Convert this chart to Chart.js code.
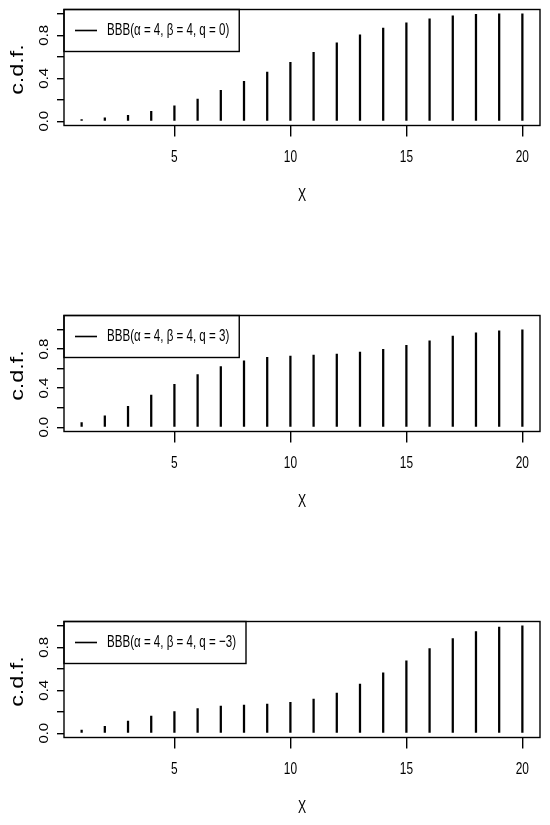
<!DOCTYPE html>
<html>
<head>
<meta charset="utf-8">
<script src="https://cdn.jsdelivr.net/npm/chart.js@4.4.1/dist/chart.umd.min.js"></script>
<style>
  html, body { margin: 0; padding: 0; background: #fff; }
  #pagina { position: relative; width: 550px; height: 825px; }
  canvas { position: absolute; left: 0; }
</style>
</head>
<body>
<div id="pagina">
  <canvas id="graficoQ0" width="550" height="214" style="top:0px"></canvas>
  <canvas id="graficoQ3" width="550" height="214" style="top:306px"></canvas>
  <canvas id="graficoQm3" width="550" height="213" style="top:612px"></canvas>
</div>
<script>
// valores
const valoresX = [1, 2, 3, 4, 5, 6, 7, 8, 9, 10, 11, 12, 13, 14, 15, 16, 17, 18, 19, 20];
const cdfQ0 = [0.014, 0.031, 0.055, 0.092, 0.144, 0.206, 0.287, 0.371, 0.458, 0.548,
               0.642, 0.729, 0.804, 0.866, 0.916, 0.954, 0.981, 0.994, 1.0, 1.0];
const cdfQ3 = [0.048, 0.116, 0.215, 0.328, 0.438, 0.540, 0.622, 0.680, 0.715, 0.728,
               0.738, 0.749, 0.769, 0.797, 0.838, 0.885, 0.933, 0.967, 0.988, 0.998];
const cdfQm3 = [0.028, 0.065, 0.112, 0.159, 0.202, 0.230, 0.252, 0.262, 0.271, 0.287,
                0.318, 0.374, 0.458, 0.561, 0.673, 0.788, 0.882, 0.947, 0.988, 1.0];
const ticksX = [5, 10, 15, 20];
const ticksY = [0, 0.2, 0.4, 0.6, 0.8, 1.0];
const rotulosY = ['0.0', '', '0.4', '', '0.8', ''];

const FONTE = '"Liberation Sans", Arial, sans-serif';

function texto(ctx, s, x, y, tam, esc, girar, alinhar) {
    ctx.save();
    ctx.translate(x, y);
    if (girar) ctx.rotate(-Math.PI / 2);
    ctx.scale(esc, 1);
    ctx.font = tam + 'px ' + FONTE;
    ctx.fillStyle = '#000';
    ctx.textAlign = alinhar || 'center';
    ctx.textBaseline = 'middle';
    ctx.fillText(s, 0, 0);
    ctx.restore();
}

// caixa, rotulos, titulos e legenda no estilo do R
const estiloR = {
    id: 'estiloR',
    afterDraw(chart) {
        const ctx = chart.ctx;
        const a = chart.chartArea;
        const sx = chart.scales.x;
        const sy = chart.scales.y;

        ctx.save();
        ctx.strokeStyle = '#000';
        ctx.lineWidth = 1.4;
        ctx.strokeRect(a.left, a.top, a.right - a.left, a.bottom - a.top);

        ticksX.forEach(v => texto(ctx, String(v), sx.getPixelForValue(v), a.bottom + 32, 17, 0.7));
        ticksY.forEach((v, i) => {
            if (rotulosY[i]) texto(ctx, rotulosY[i], 44, sy.getPixelForValue(v), 13, 1.15, true);
        });

        texto(ctx, 'X', (a.left + a.right) / 2, a.bottom + 71, 18, 0.68);
        texto(ctx, 'c.d.f.', 18, (a.top + a.bottom) / 2 + 2, 18, 1.3, true);

        // legenda
        const rotulo = chart.data.datasets[0].label;
        ctx.font = '17px ' + FONTE;
        const largura = ctx.measureText(rotulo).width * 0.68;
        ctx.lineWidth = 1.4;
        ctx.strokeRect(a.left, a.top, 43 + largura + 10, 42);
        ctx.lineWidth = 1.6;
        ctx.beginPath();
        ctx.moveTo(a.left + 11, a.top + 21);
        ctx.lineTo(a.left + 33, a.top + 21);
        ctx.stroke();
        texto(ctx, rotulo, a.left + 43, a.top + 21, 17, 0.68, false, 'left');
        ctx.restore();
    }
};

function criarGrafico(id, rotulo, valores, yMax) {
    const faixa = yMax * 0.04;
    return new Chart(document.getElementById(id), {
        type: 'bar',
        data: {
            datasets: [{
                label: rotulo,
                data: valoresX.map((x, i) => ({ x: x, y: valores[i] })),
                backgroundColor: '#000',
                borderWidth: 0,
                barThickness: 1.6
            }]
        },
        options: {
            responsive: false,
            animation: false,
            layout: { padding: { left: 0, right: 10, top: 9.5, bottom: 0 } },
            plugins: { legend: { display: false }, tooltip: { enabled: false } },
            scales: {
                x: {
                    type: 'linear',
                    min: 1 - 19 * 0.04,
                    max: 20 + 19 * 0.04,
                    offset: false,
                    afterBuildTicks: s => { s.ticks = ticksX.map(v => ({ value: v })); },
                    afterFit: s => { s.height = s.chart.height - 125.5; },
                    ticks: { display: false },
                    border: { display: false },
                    grid: { offset: false, drawOnChartArea: false, drawTicks: true, tickLength: 11, color: '#000', lineWidth: 1.4 }
                },
                y: {
                    min: -faixa,
                    max: yMax + faixa,
                    afterBuildTicks: s => { s.ticks = ticksY.map(v => ({ value: v })); },
                    afterFit: s => { s.width = 64; },
                    ticks: { display: false },
                    border: { display: false },
                    grid: { drawOnChartArea: false, drawTicks: true, tickLength: 7, color: '#000', lineWidth: 1.4 }
                }
            }
        },
        plugins: [estiloR]
    });
}

const graficoQ0 = criarGrafico('graficoQ0', 'BBB(\u03b1 = 4, \u03b2 = 4, q = 0)', cdfQ0, 1.0);
const graficoQ3 = criarGrafico('graficoQ3', 'BBB(\u03b1 = 4, \u03b2 = 4, q = 3)', cdfQ3, 1.1);
const graficoQm3 = criarGrafico('graficoQm3', 'BBB(\u03b1 = 4, \u03b2 = 4, q = \u22123)', cdfQm3, 1.0);
</script>
</body>
</html>
